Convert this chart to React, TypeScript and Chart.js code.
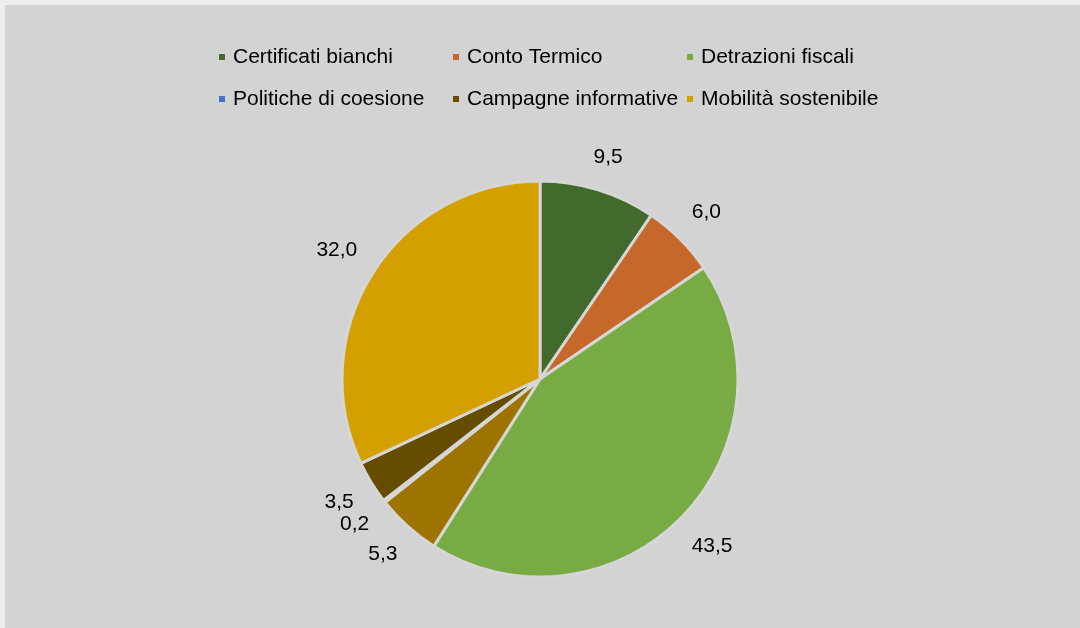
import React, { useEffect, useRef } from "react";
import { Chart, registerables } from "chart.js";

Chart.register(...registerables);

const categories = [
  "Certificati bianchi",
  "Conto Termico",
  "Detrazioni fiscali",
  "Fondo nazionale efficienza energetica",
  "Politiche di coesione",
  "Campagne informative",
  "Mobilità sostenibile",
];
const values = [9.5, 6.0, 43.5, 5.3, 0.2, 3.5, 32.0];
const colors = ["#436A2D", "#C56829", "#78AB43", "#9E7400", "#4472C4", "#654C00", "#D4A000"];
// categories shown in the legend (the reference omits one)
const legendItems = [
  "Certificati bianchi",
  "Conto Termico",
  "Detrazioni fiscali",
  "Politiche di coesione",
  "Campagne informative",
  "Mobilità sostenibile",
];

const FONT = "21px 'Liberation Sans', Arial, sans-serif";

const legendPlugin = {
  id: "gridLegend",
  afterDraw(chart: any) {
    const ctx = chart.ctx;
    ctx.save();
    ctx.font = FONT;
    ctx.textBaseline = "middle";
    ctx.textAlign = "left";
    const colX = [214, 448, 682];
    const rowY = [51, 93];
    legendItems.forEach((name, i) => {
      const col = i % 3;
      const row = Math.floor(i / 3);
      const idx = categories.indexOf(name);
      const x = colX[col];
      const y = rowY[row];
      ctx.fillStyle = colors[idx];
      ctx.fillRect(x, y - 2, 6, 6);
      ctx.fillStyle = "#000000";
      ctx.fillText(name, x + 14, y + 1);
    });
    ctx.restore();
  },
};

const labelPlugin = {
  id: "outLabels",
  afterDatasetsDraw(chart: any) {
    const ctx = chart.ctx;
    const meta = chart.getDatasetMeta(0);
    ctx.save();
    ctx.font = FONT;
    ctx.textAlign = "center";
    ctx.textBaseline = "middle";
    ctx.fillStyle = "#000000";
    meta.data.forEach((arc: any, i: number) => {
      const p = arc.getProps(["x", "y", "startAngle", "endAngle", "outerRadius"], true);
      const mid = (p.startAngle + p.endAngle) / 2;
      const txt = values[i].toFixed(1).replace(".", ",");
      const w = ctx.measureText(txt).width;
      const c = Math.cos(mid);
      const s = Math.sin(mid);
      const d = p.outerRadius + 20 + (w / 2) * Math.abs(c) + 10 * Math.abs(s);
      ctx.fillText(txt, p.x + d * c, p.y + d * s);
    });
    ctx.restore();
  },
};

export default function App() {
  const ref = useRef<HTMLCanvasElement | null>(null);
  useEffect(() => {
    if (!ref.current) return;
    const chart = new Chart(ref.current, {
      type: "pie",
      data: {
        labels: categories,
        datasets: [
          {
            data: values,
            backgroundColor: colors,
            borderColor: "#D6D6D6",
            borderWidth: 3,
            radius: 198,
          },
        ],
      },
      options: {
        responsive: false,
        animation: false,
        devicePixelRatio: 1,
        layout: { padding: { top: 125, bottom: 0, left: 0, right: 5 } },
        plugins: {
          legend: { display: false },
          tooltip: { enabled: false },
        },
      },
      plugins: [legendPlugin, labelPlugin],
    });
    return () => chart.destroy();
  }, []);
  return (
    <div style={{ position: "fixed", left: 0, top: 0, width: 1080, height: 628, background: "#EDEDED" }}>
      <div style={{ position: "absolute", left: 5, top: 5, width: 1075, height: 623, background: "#D3D3D3" }}>
        <canvas ref={ref} width={1075} height={623} style={{ display: "block" }} />
      </div>
    </div>
  );
}
